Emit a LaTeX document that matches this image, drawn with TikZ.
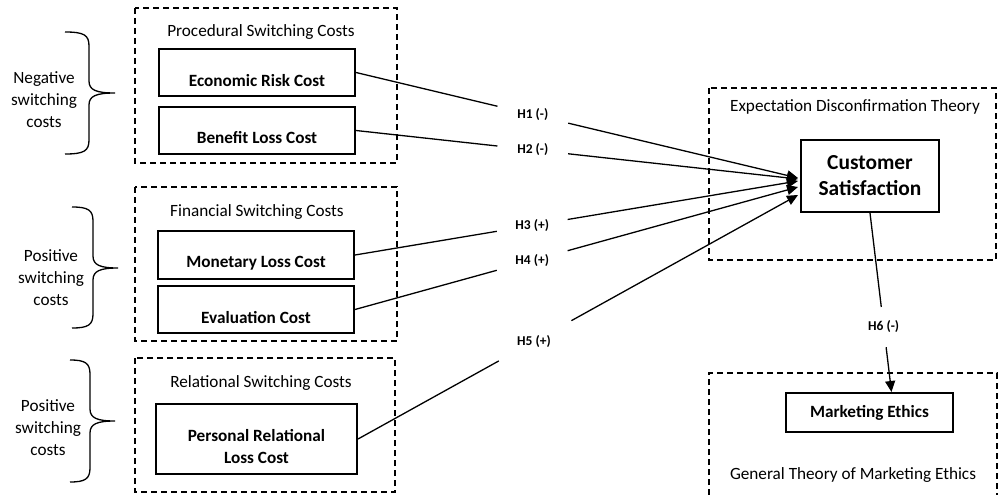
\documentclass[tikz,border=0pt]{standalone}
\usepackage{fontspec}
\setmainfont{Carlito}
\usetikzlibrary{arrows.meta,calc}
\newcommand{\mybrace}[6]{% #1 xend, #2 xmid, #3 xtip, #4 ytop, #5 ytip, #6 ybot
\draw[bracestyle] (#1,#4) .. controls (#2-5,#4) and (#2,#4+3) .. (#2,#4+14) -- (#2,#5-12) .. controls (#2,#5-3) and (#2+7,#5) .. (#3,#5) .. controls (#2+7,#5) and (#2,#5+3) .. (#2,#5+12) -- (#2,#6-14) .. controls (#2,#6-3) and (#2-5,#6) .. (#1,#6);}
\begin{document}
\begin{tikzpicture}[x=1pt,y=-1pt,
 dashbox/.style={draw, line width=1.3pt, dash pattern=on 6pt off 4pt},
 solidbox/.style={draw, line width=2pt, inner sep=0pt},
 boxtext/.style={font=\bfseries\fontsize{17.2}{22}\selectfont, align=center, inner sep=0pt},
 titletext/.style={font=\fontsize{17.2}{22}\selectfont, align=center, inner sep=0pt},
 hlab/.style={font=\bfseries\fontsize{13.5}{16}\selectfont, inner sep=0pt},
 conn/.style={line width=1.3pt},
 arr/.style={conn, -{Triangle[length=11pt,width=10pt]}},
 bracestyle/.style={line width=1.3pt}
]
\useasboundingbox (0,0) rectangle (999,495);

% dashed group boxes
\draw[dashbox] (135,8) rectangle (397,163);
\draw[dashbox] (135,187) rectangle (397,341);
\draw[dashbox] (135,358) rectangle (395,492);
\draw[dashbox] (709,88) rectangle (996,260);
\draw[dashbox] (709,495) -- (709,373) -- (997,373) -- (997,495);

% group titles
\node[titletext] (tproc) at (261,32) {Procedural Switching Costs};
\node[titletext] (tfin) at (257,212) {Financial Switching Costs};
\node[titletext] (trel) at (261,383) {Relational Switching Costs};
\node[titletext] (tedt) at (855,107) {Expectation Disconfirmation Theory};
\node[titletext] (tgtme) at (853,475) {General Theory of Marketing Ethics};

% braces and their texts
\mybrace{65}{89}{115}{32}{93}{154}
\mybrace{72}{93}{118}{207}{268}{328}
\mybrace{70}{90}{115}{360}{421}{482}
\node[titletext] (neg) at (44,100) {Negative\\switching\\costs};
\node[titletext] (pos1) at (51,278) {Positive\\switching\\costs};
\node[titletext] (pos2) at (48,428) {Positive\\switching\\costs};

% solid boxes
\node[solidbox, minimum width=196pt, minimum height=47pt] (erc) at (257,72.5) {};
\node[boxtext] (ercT) at (257,81) {Economic Risk Cost};
\node[solidbox, minimum width=196pt, minimum height=47pt] (blc) at (257,130.5) {};
\node[boxtext] (blcT) at (257,138) {Benefit Loss Cost};
\node[solidbox, minimum width=196pt, minimum height=48pt] (mlc) at (256,255) {};
\node[boxtext] (mlcT) at (256,263) {Monetary Loss Cost};
\node[solidbox, minimum width=196pt, minimum height=47pt] (ec) at (256,309.5) {};
\node[boxtext] (ecT) at (256,318) {Evaluation Cost};
\node[solidbox, minimum width=201pt, minimum height=70pt] (prlc) at (256.5,439) {};
\node[boxtext] (prlcT) at (256.5,447) {Personal Relational\\Loss Cost};

\node[solidbox, minimum width=138pt, minimum height=72pt,
      font=\bfseries\fontsize{21.4}{26}\selectfont, align=center] (cs) at (870,176) {Customer\\Satisfaction};
\node[solidbox, minimum width=167pt, minimum height=39pt,
      font=\bfseries\fontsize{17.2}{22}\selectfont] (me) at (869.5,412.5) {Marketing Ethics};

% arrow targets
\coordinate (t1) at ([xshift=-2pt,yshift=-2pt]cs.west);
\coordinate (t2) at ([xshift=-2pt,yshift=-3pt]cs.west);
\coordinate (t3) at ([xshift=-2pt,yshift=-5pt]cs.west);
\coordinate (t4) at ([xshift=-2pt,yshift=-11pt]cs.west);
\coordinate (t5) at ([xshift=-2pt,yshift=-19pt]cs.west);
\coordinate (t6) at ([xshift=22pt]me.north);

% connectors
\draw[conn] (erc.east) -- ($(erc.east)!0.32!(t1)$);
\draw[arr] ($(erc.east)!0.48!(t1)$) -- (t1);
\node[hlab] (h1) at ($(erc.east)!0.40!(t1)$) {H1 (-)};

\draw[conn] (blc.east) -- ($(blc.east)!0.32!(t2)$);
\draw[arr] ($(blc.east)!0.48!(t2)$) -- (t2);
\node[hlab] (h2) at ($(blc.east)!0.40!(t2)$) {H2 (-)};

\draw[conn] (mlc.east) -- ($(mlc.east)!0.32!(t3)$);
\draw[arr] ($(mlc.east)!0.48!(t3)$) -- (t3);
\node[hlab] (h3) at ($(mlc.east)!0.40!(t3)$) {H3 (+)};

\draw[conn] (ec.east) -- ($(ec.east)!0.32!(t4)$);
\draw[arr] ($(ec.east)!0.48!(t4)$) -- (t4);
\node[hlab] (h4) at ($(ec.east)!0.40!(t4)$) {H4 (+)};

\draw[conn] (prlc.east) -- ($(prlc.east)!0.32!(t5)$);
\draw[arr] ($(prlc.east)!0.485!(t5)$) -- (t5);
\node[hlab] (h5) at ($(prlc.east)!0.40!(t5)$) {H5 (+)};

\draw[conn] (cs.south) -- ($(cs.south)!0.525!(t6)$);
\draw[arr] ($(cs.south)!0.75!(t6)$) -- (t6);
\node[hlab] (h6) at ($(cs.south)!0.635!(t6)$) {H6 (-)};
\end{tikzpicture}
\end{document}
